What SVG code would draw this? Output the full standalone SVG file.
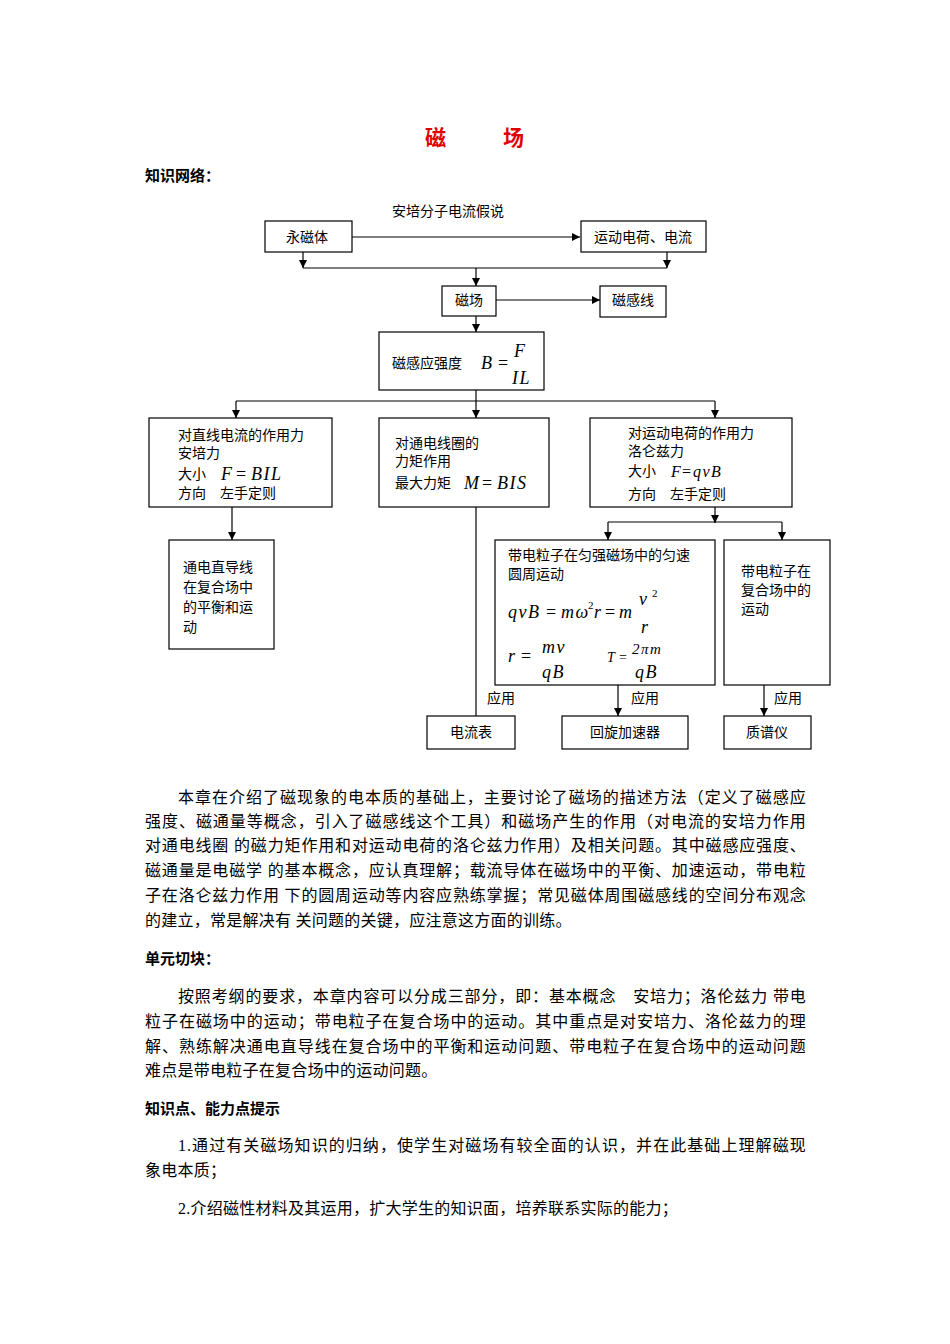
<svg xmlns="http://www.w3.org/2000/svg" width="950" height="1344" viewBox="0 0 950 1344">
<style>
.bg{fill:#fff}
.box{fill:#fff;stroke:#000;stroke-width:1.2}
.t{font-family:"Noto Sans CJK SC",sans-serif;font-size:14px;fill:#000}
.c{text-anchor:middle}
.m{font-family:"Liberation Serif",serif;font-style:italic;font-size:18px;fill:#000;letter-spacing:1.5px}
.ms{font-family:"Liberation Serif",serif;font-style:italic;font-size:16px;fill:#000;letter-spacing:1.5px}
.n{font-style:normal;letter-spacing:0}
.p{font-family:"Liberation Serif","Noto Sans CJK SC",serif;font-size:16px;fill:#000;letter-spacing:0.25px}
.h{font-family:"Liberation Serif","Noto Sans CJK SC",serif;font-size:15px;font-weight:bold;fill:#000}
.title{font-family:"Liberation Serif","Noto Sans CJK SC",serif;font-size:21px;font-weight:bold;fill:#e00000}
.ln{fill:none;stroke:#000;stroke-width:1.2}
</style>
<defs>
<marker id="ah" viewBox="0 0 10 10" refX="10" refY="5" markerWidth="8" markerHeight="8" markerUnits="userSpaceOnUse" orient="auto">
<path d="M0,0 L10,5 L0,10 z" fill="#000"/>
</marker>
</defs>
<rect class="bg" x="0" y="0" width="950" height="1344"/>

<text class="title" x="425" y="145">磁</text>
<text class="title" x="503" y="145">场</text>
<text class="h" x="145" y="181">知识网络：</text>

<text class="t c" x="448" y="216">安培分子电流假说</text>

<g id="connectors">
<line class="ln" x1="352" y1="237" x2="580" y2="237" marker-end="url(#ah)"/>
<line class="ln" x1="303" y1="252" x2="303" y2="268" marker-end="url(#ah)"/>
<line class="ln" x1="667" y1="252" x2="667" y2="268" marker-end="url(#ah)"/>
<line class="ln" x1="303" y1="268" x2="667" y2="268"/>
<line class="ln" x1="476" y1="268" x2="476" y2="286" marker-end="url(#ah)"/>
<line class="ln" x1="496" y1="300" x2="600" y2="300" marker-end="url(#ah)"/>
<line class="ln" x1="476" y1="316" x2="476" y2="332" marker-end="url(#ah)"/>
<line class="ln" x1="476" y1="390" x2="476" y2="418" marker-end="url(#ah)"/>
<line class="ln" x1="236" y1="401" x2="715" y2="401"/>
<line class="ln" x1="236" y1="401" x2="236" y2="418" marker-end="url(#ah)"/>
<line class="ln" x1="715" y1="401" x2="715" y2="418" marker-end="url(#ah)"/>
<line class="ln" x1="232" y1="507" x2="232" y2="540" marker-end="url(#ah)"/>
<line class="ln" x1="476" y1="507" x2="476" y2="716"/>
<line class="ln" x1="715" y1="507" x2="715" y2="523" marker-end="url(#ah)"/>
<line class="ln" x1="608" y1="522" x2="782" y2="522"/>
<line class="ln" x1="608" y1="522" x2="608" y2="540" marker-end="url(#ah)"/>
<line class="ln" x1="782" y1="522" x2="782" y2="540" marker-end="url(#ah)"/>
<line class="ln" x1="618" y1="685" x2="618" y2="716" marker-end="url(#ah)"/>
<line class="ln" x1="764" y1="685" x2="764" y2="716" marker-end="url(#ah)"/>
<text class="t" x="487" y="703">应用</text>
<text class="t" x="631" y="703">应用</text>
<text class="t" x="774" y="703">应用</text>
</g>

<g id="n-yongciti">
<rect class="box" x="265" y="221" width="87" height="31"/>
<text class="t c" x="307" y="242">永磁体</text>
</g>
<g id="n-yundong">
<rect class="box" x="581" y="221" width="125" height="31"/>
<text class="t c" x="643" y="242">运动电荷、电流</text>
</g>
<g id="n-cichang">
<rect class="box" x="442" y="286" width="54" height="30"/>
<text class="t c" x="469" y="305">磁场</text>
</g>
<g id="n-ciganxian">
<rect class="box" x="600" y="286" width="66" height="31"/>
<text class="t c" x="633" y="305">磁感线</text>
</g>
<g id="n-B">
<rect class="box" x="379" y="332" width="165" height="58"/>
<text class="t" x="392" y="368">磁感应强度</text>
<text class="m" x="481" y="369">B</text>
<text class="m n" x="498" y="369">=</text>
<text class="m" x="514" y="357">F</text>
<text class="m" x="512" y="384">IL</text>
</g>
<g id="n-anpei">
<rect class="box" x="149" y="418" width="183" height="89"/>
<text class="t" x="178" y="440">对直线电流的作用力</text>
<text class="t" x="178" y="458">安培力</text>
<text class="t" x="178" y="479">大小</text>
<text class="m" x="221" y="480">F</text>
<text class="m n" x="236" y="480">=</text>
<text class="m" x="251" y="480">BIL</text>
<text class="t" x="178" y="498">方向　左手定则</text>
</g>
<g id="n-lijv">
<rect class="box" x="379" y="418" width="170" height="89"/>
<text class="t" x="395" y="448">对通电线圈的</text>
<text class="t" x="395" y="466">力矩作用</text>
<text class="t" x="395" y="488">最大力矩</text>
<text class="m" x="464" y="489">M</text>
<text class="m n" x="482" y="489">=</text>
<text class="m" x="497" y="489">BIS</text>
</g>
<g id="n-luolun">
<rect class="box" x="590" y="418" width="202" height="89"/>
<text class="t" x="628" y="438">对运动电荷的作用力</text>
<text class="t" x="628" y="456">洛仑兹力</text>
<text class="t" x="628" y="476">大小</text>
<text class="ms" x="671" y="477">F</text>
<text class="ms n" x="682" y="477">=</text>
<text class="ms" x="693" y="477">qvB</text>
<text class="t" x="628" y="499">方向　左手定则</text>
</g>
<g id="n-daoxian">
<rect class="box" x="169" y="540" width="105" height="109"/>
<text class="t" x="183" y="572">通电直导线</text>
<text class="t" x="183" y="592">在复合场中</text>
<text class="t" x="183" y="612">的平衡和运</text>
<text class="t" x="183" y="632">动</text>
</g>
<g id="n-yuanzhou">
<rect class="box" x="495" y="540" width="220" height="145"/>
<text class="t" x="508" y="560">带电粒子在匀强磁场中的匀速</text>
<text class="t" x="508" y="579">圆周运动</text>
<text class="m" x="508" y="618">qvB</text>
<text class="m n" x="546" y="618">=</text>
<text class="m" x="561" y="618">mω</text>
<text class="ms n" x="588" y="609" style="font-size:11px">2</text>
<text class="m" x="594" y="618">r</text>
<text class="m n" x="605" y="618">=</text>
<text class="m" x="619" y="618">m</text>
<text class="m" x="639" y="605">v</text>
<text class="ms n" x="652" y="597" style="font-size:11px">2</text>
<text class="m" x="641" y="633">r</text>
<text class="m" x="508" y="662">r</text>
<text class="m n" x="521" y="662">=</text>
<text class="m" x="542" y="653">mv</text>
<text class="m" x="542" y="678">qB</text>
<text class="ms" x="607" y="662" style="font-size:14px">T</text>
<text class="ms n" x="619" y="662" style="font-size:14px">=</text>
<text class="ms" x="632" y="654" style="font-size:15px">2πm</text>
<text class="m" x="635" y="678">qB</text>
</g>
<g id="n-fuhe">
<rect class="box" x="724" y="540" width="106" height="145"/>
<text class="t" x="741" y="576">带电粒子在</text>
<text class="t" x="741" y="595">复合场中的</text>
<text class="t" x="741" y="614">运动</text>
</g>
<g id="n-dianliubiao">
<rect class="box" x="427" y="716" width="88" height="33"/>
<text class="t c" x="471" y="737">电流表</text>
</g>
<g id="n-huixuan">
<rect class="box" x="562" y="716" width="126" height="33"/>
<text class="t c" x="625" y="737">回旋加速器</text>
</g>
<g id="n-zhipu">
<rect class="box" x="724" y="716" width="87" height="33"/>
<text class="t c" x="767" y="737">质谱仪</text>
</g>

<text class="p" x="178" y="803" textLength="628" lengthAdjust="spacing">本章在介绍了磁现象的电本质的基础上，主要讨论了磁场的描述方法（定义了磁感应</text>
<text class="p" x="145" y="827" textLength="661" lengthAdjust="spacing">强度、磁通量等概念，引入了磁感线这个工具）和磁场产生的作用（对电流的安培力作用</text>
<text class="p" x="145" y="851" textLength="661" lengthAdjust="spacing">对通电线圈 的磁力矩作用和对运动电荷的洛仑兹力作用）及相关问题。其中磁感应强度、</text>
<text class="p" x="145" y="876" textLength="661" lengthAdjust="spacing">磁通量是电磁学 的基本概念，应认真理解；载流导体在磁场中的平衡、加速运动，带电粒</text>
<text class="p" x="145" y="901" textLength="661" lengthAdjust="spacing">子在洛仑兹力作用 下的圆周运动等内容应熟练掌握；常见磁体周围磁感线的空间分布观念</text>
<text class="p" x="145" y="926">的建立，常是解决有 关问题的关键，应注意这方面的训练。</text>

<text class="h" x="145" y="964">单元切块：</text>
<text class="p" x="178" y="1002" textLength="628" lengthAdjust="spacing">按照考纲的要求，本章内容可以分成三部分，即：基本概念　安培力；洛伦兹力 带电</text>
<text class="p" x="145" y="1027" textLength="661" lengthAdjust="spacing">粒子在磁场中的运动；带电粒子在复合场中的运动。其中重点是对安培力、洛伦兹力的理</text>
<text class="p" x="145" y="1052" textLength="661" lengthAdjust="spacing">解、熟练解决通电直导线在复合场中的平衡和运动问题、带电粒子在复合场中的运动问题</text>
<text class="p" x="145" y="1076">难点是带电粒子在复合场中的运动问题。</text>

<text class="h" x="145" y="1114">知识点、能力点提示</text>
<text class="p" x="178" y="1151" textLength="628" lengthAdjust="spacing">1.通过有关磁场知识的归纳，使学生对磁场有较全面的认识，并在此基础上理解磁现</text>
<text class="p" x="145" y="1176">象电本质；</text>
<text class="p" x="178" y="1214">2.介绍磁性材料及其运用，扩大学生的知识面，培养联系实际的能力；</text>
</svg>
